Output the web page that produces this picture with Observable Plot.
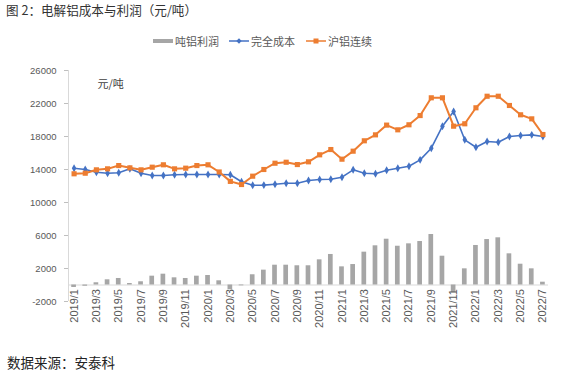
<!DOCTYPE html>
<html><head><meta charset="utf-8">
<script src="https://cdn.jsdelivr.net/npm/d3@7"></script>
<script src="https://cdn.jsdelivr.net/npm/@observablehq/plot@0.6"></script>
<style>
body{margin:0;background:#fff;width:567px;height:377px;overflow:hidden;font-family:"Liberation Sans","Noto Sans CJK SC",sans-serif}
#title{height:20px;line-height:20px;padding-left:6px;font-size:12.6px;color:#333;font-family:"Noto Sans CJK SC",sans-serif}
#legend{position:relative;height:34px;font-size:11px;color:#595959;font-family:"Noto Sans CJK SC",sans-serif}
#legend .item{position:absolute;top:14px;height:14px;line-height:14px;display:flex;align-items:center;white-space:nowrap}
#legend svg{margin-right:2px}
#chart{height:290px}
#caption{height:28px;padding-top:8px;box-sizing:border-box;line-height:20px;padding-left:7px;font-size:13.5px;color:#222;font-family:"Noto Sans CJK SC",sans-serif}
svg g[aria-label^="y-axis"] line, svg g[aria-label="y-axis tick"] path{stroke:#bfbfbf}
</style></head>
<body>
<div id="title">图 2：电解铝成本与利润（元/吨）</div>
<div id="legend"></div>
<div id="chart"></div>
<div id="caption">数据来源：安泰科</div>
<script>
const months = ["2019/1","2019/2","2019/3","2019/4","2019/5","2019/6","2019/7","2019/8","2019/9","2019/10","2019/11","2019/12",
"2020/1","2020/2","2020/3","2020/4","2020/5","2020/6","2020/7","2020/8","2020/9","2020/10","2020/11","2020/12",
"2021/1","2021/2","2021/3","2021/4","2021/5","2021/6","2021/7","2021/8","2021/9","2021/10","2021/11","2021/12",
"2022/1","2022/2","2022/3","2022/4","2022/5","2022/6","2022/7"];
const tickLabels = ["2019/1","2019/3","2019/5","2019/7","2019/9","2019/11","2020/1","2020/3","2020/5","2020/7","2020/9","2020/11",
"2021/1","2021/3","2021/5","2021/7","2021/9","2021/11","2022/1","2022/3","2022/5","2022/7"];
const profit = [-300,-150,270,630,790,180,390,1070,1310,870,790,1070,1150,510,-580,-100,1240,1800,2400,2400,2330,2330,
3050,3700,2200,2480,3980,4750,5550,4700,4990,5270,6120,3490,-900,1960,4790,5510,5720,3780,2520,1960,340];
const cost = [14160,14000,13670,13550,13600,14080,13550,13270,13270,13360,13390,13390,13390,13390,13360,
12510,12090,12110,12220,12340,12340,12670,12790,12820,13070,13960,13550,13480,13900,14160,14400,15170,16580,
19250,21030,17600,16700,17390,17310,18000,18120,18200,18000];
const shfe = [13480,13550,13960,14080,14480,14200,13960,14280,14570,14080,14160,14480,14570,13700,12560,
12180,13190,14000,14760,14880,14600,14930,15780,16420,15250,16220,17480,18200,19380,18810,19420,20540,22690,
22690,19250,19540,21480,22880,22880,21760,20630,20140,18240];
const yTicks = [-2000,2000,6000,10000,14000,18000,22000,26000];
const seriesNames = ["吨铝利润","完全成本","沪铝连续"];
const colors = ["#a6a6a6","#4472c4","#ed7d31"];

const rows = months.map((m,i)=>({i, m, profit: profit[i], cost: cost[i], shfe: shfe[i]}));
const tickRows = tickLabels.map(t=>({i: months.indexOf(t), t}));

const chart = Plot.plot({
  width: 567, height: 290,
  marginLeft: 68, marginRight: 19, marginTop: 16, marginBottom: 43,
  style: {fontFamily: "Liberation Sans, Arial, sans-serif", fontSize: "9.5px", color: "#595959", background: "#fff"},
  x: {type: "linear", domain: [-0.5, 42.5], axis: null},
  y: {domain: [-2000, 26000], ticks: yTicks, tickSize: 4, tickPadding: 8, tickFormat: d => String(d), label: null},
  marks: [
    Plot.ruleY([0], {stroke: "#d9d9d9", strokeWidth: 1}),
    Plot.ruleX([-0.5], {stroke: "#d9d9d9", strokeWidth: 1}),
    Plot.rectY(rows, {x1: d => d.i - 0.21, x2: d => d.i + 0.21, y1: 0, y2: "profit", fill: colors[0]}),
    Plot.line(rows, {x: "i", y: "cost", stroke: colors[1], strokeWidth: 1.6}),
    Plot.dot(rows, {x: "i", y: "cost", symbol: "diamond", r: 2.4, fill: colors[1], stroke: "none"}),
    Plot.line(rows, {x: "i", y: "shfe", stroke: colors[2], strokeWidth: 2}),
    Plot.dot(rows, {x: "i", y: "shfe", symbol: "square", r: 2.9, fill: colors[2], stroke: "none"}),
    Plot.text(tickRows, {x: "i", y: () => 0, text: "t", rotate: -90, textAnchor: "end", dy: 4, fontSize: 11, fill: "#595959"}),
    Plot.text(["元/吨"], {frameAnchor: "top-left", dx: 29, dy: 10, fontSize: 11, fill: "#404040", textAnchor: "start", fontFamily: "Noto Sans CJK SC, sans-serif"})
  ]
});
document.getElementById("chart").appendChild(chart);

// legend
const legend = document.getElementById("legend");
const lefts = [153, 229, 306];
seriesNames.forEach((name, k) => {
  const item = document.createElement("div");
  item.className = "item";
  item.style.left = lefts[k] + "px";
  let sw;
  if (k === 0) sw = `<svg width="20" height="8"><rect x="0" y="2" width="20" height="4" fill="${colors[0]}"/></svg>`;
  else if (k === 1) sw = `<svg width="20" height="8"><line x1="0" y1="4" x2="20" y2="4" stroke="${colors[1]}" stroke-width="1.5"/><path d="M10,1.3L12.7,4L10,6.7L7.3,4Z" fill="${colors[1]}"/></svg>`;
  else sw = `<svg width="20" height="8"><line x1="0" y1="4" x2="20" y2="4" stroke="${colors[2]}" stroke-width="1.5"/><rect x="7.5" y="1.5" width="5" height="5" fill="${colors[2]}"/></svg>`;
  item.innerHTML = sw + `<span>${name}</span>`;
  legend.appendChild(item);
});
</script>
</body></html>
